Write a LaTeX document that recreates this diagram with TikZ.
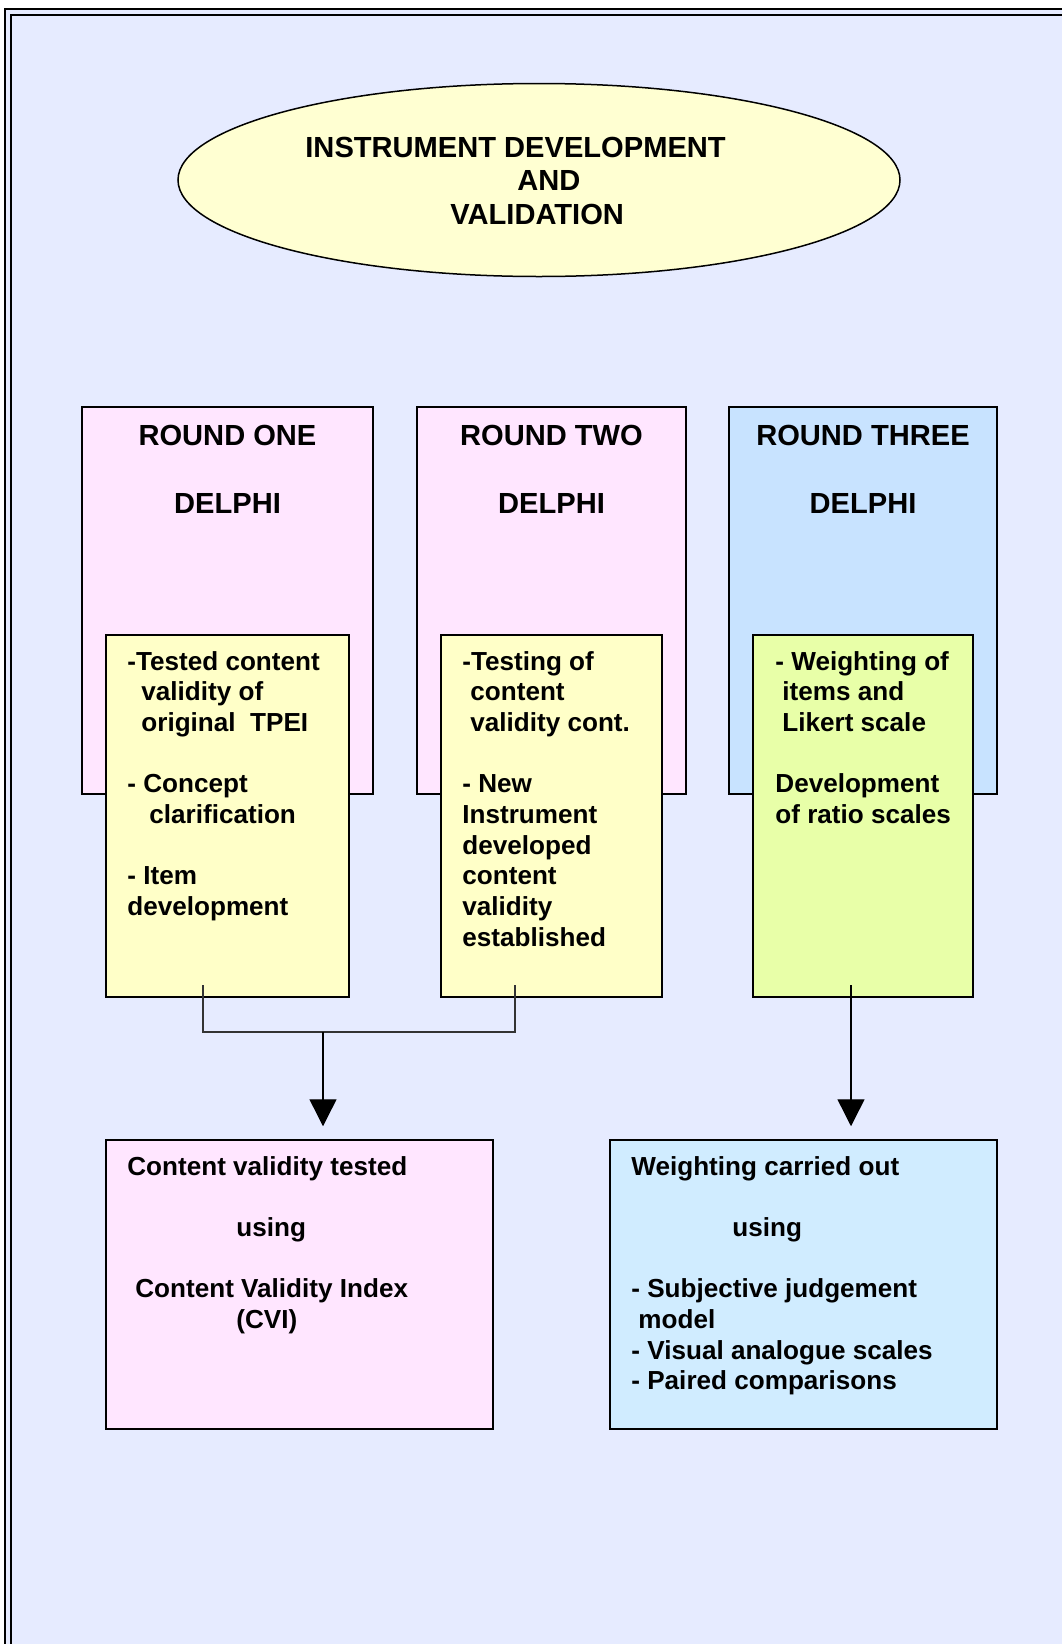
\documentclass[tikz,border=0pt]{standalone}
\usepackage{fontspec}
\setmainfont{Liberation Sans}
\usetikzlibrary{positioning, fit, arrows.meta, shapes}
\definecolor{pagebg}{HTML}{E6EBFF}
\definecolor{titlefill}{HTML}{FFFFD2}
\definecolor{pinkfill}{HTML}{FFE6FF}
\definecolor{bluefill}{HTML}{C8E3FF}
\definecolor{lightblue}{HTML}{D0ECFF}
\definecolor{notefill}{HTML}{FFFFC8}
\definecolor{limefill}{HTML}{E8FFA8}

\begin{document}
\begin{tikzpicture}[
    % GLOBAL CFG
    x=0.5pt, y=-0.5pt,
    >={Triangle[width=13.5pt,length=13.5pt]},
    % Styles
    frame/.style={% For the page border
        line width=0.7pt,
    },
    titlebox/.style={% For the heading
        ellipse,
        draw=black,
        line width=0.75pt,
        fill=titlefill,
        minimum width=361pt,
        minimum height=96.5pt,
    },
    roundbox/.style={% For the Delphi rounds
        rectangle,
        draw=black,
        line width=0.75pt,
        inner sep=0pt,
    },
    notebox/.style={% For the notes inside the rounds
        rectangle,
        draw=black,
        line width=0.75pt,
        inner sep=0pt,
    },
    bigtxt/.style={
        font=\bfseries\fontsize{14.55pt}{17pt}\selectfont,
        inner sep=0pt,
    },
    smalltxt/.style={% placed at the baseline of the last line
        font=\bfseries\fontsize{13.05pt}{15.35pt}\selectfont,
        inner sep=0pt,
        anchor=base west,
        align=left,
    },
    link/.style={% Joining lines
        line width=0.6pt,
        draw=black!80,
    },
    flow/.style={% Arrows
        ->,
        line width=0.7pt,
        shorten >=6.5pt,
    },
    ]
    \useasboundingbox (0,0) rectangle (1061,1644);

    % Page border
    \fill[pagebg] (5,9) rectangle (1080,1660);
    \draw[frame] (5,1660) -- (5,9) -- (1080,9);
    \draw[frame] (11,1660) -- (11,15) -- (1080,15);

    % Heading
    \node[titlebox] (head) at (539,180) {};
    \node[bigtxt, anchor=base west, align=left,
        font=\bfseries\fontsize{14.55pt}{16.75pt}\selectfont] (headtxt) at (305,224)
        {INSTRUMENT DEVELOPMENT\\\hspace*{106pt}AND\\\hspace*{72.5pt}VALIDATION};

    % Rounds
    \node[roundbox, fill=pinkfill, fit={(82,407) (373,794)}] (r1) {};
    \node[roundbox, fill=pinkfill, fit={(417,407) (686,794)}] (r2) {};
    \node[roundbox, fill=bluefill, fit={(729,407) (997,794)}] (r3) {};

    \node[bigtxt, anchor=base, align=center] (r1txt) at (r1.north |- 0,513) {ROUND ONE\\[17pt]DELPHI};
    \node[bigtxt, anchor=base, align=center] (r2txt) at (r2.north |- 0,513) {ROUND TWO\\[17pt]DELPHI};
    \node[bigtxt, anchor=base, align=center] (r3txt) at (r3.north |- 0,513) {ROUND THREE\\[17pt]DELPHI};

    % Notes
    \node[notebox, fill=notefill, fit={(106,635) (349,997)}] (n1) {};
    \node[notebox, fill=notefill, fit={(441,635) (662,997)}] (n2) {};
    \node[notebox, fill=limefill, fit={(753,635) (973,997)}] (n3) {};

    \node[smalltxt] (n1txt) at (127,915.6) {-Tested content\\\hspace*{7pt}validity of\\\hspace*{7pt}original~~TPEI\\[15.35pt]- Concept\\\hspace*{11pt}clarification\\[15.35pt]- Item\\development};
    \node[smalltxt] (n2txt) at (462,946.3) {-Testing of\\\hspace*{4pt}content\\\hspace*{4pt}validity cont.\\[15.35pt]- New\\Instrument\\developed\\content\\validity\\established};
    \node[smalltxt] (n3txt) at (775,823.5) {- Weighting of\\\hspace*{3.5pt}items and\\\hspace*{3.5pt}Likert scale\\[15.35pt]Development\\of ratio scales};

    % Results
    \node[roundbox, fill=pinkfill, fit={(106,1140) (493,1429)}] (cvi) {};
    \node[roundbox, fill=lightblue, fit={(610,1140) (997,1429)}] (wgt) {};

    \node[smalltxt] (cvitxt) at (127,1328.5) {Content validity tested\\[15.35pt]\hspace*{54.5pt}using\\[15.35pt]\hspace*{4pt}Content Validity Index\\\hspace*{54.5pt}(CVI)};
    \node[smalltxt] (wgttxt) at (631,1389.9) {Weighting carried out\\[15.35pt]\hspace*{50.5pt}using\\[15.35pt]- Subjective judgement\\\hspace*{3.5pt}model\\- Visual analogue scales\\- Paired comparisons};

    % Connectors
    \coordinate (s1) at (203,985);
    \coordinate (s2) at (515,985);
    \coordinate (s3) at (851,985);
    \coordinate (jn) at (323,1032);

    \draw[link] (s1) |- (jn) -| (s2);
    \draw[flow] (jn) -- (jn |- cvi.north);
    \draw[flow] (s3) -- (s3 |- wgt.north);

\end{tikzpicture}
\end{document}
